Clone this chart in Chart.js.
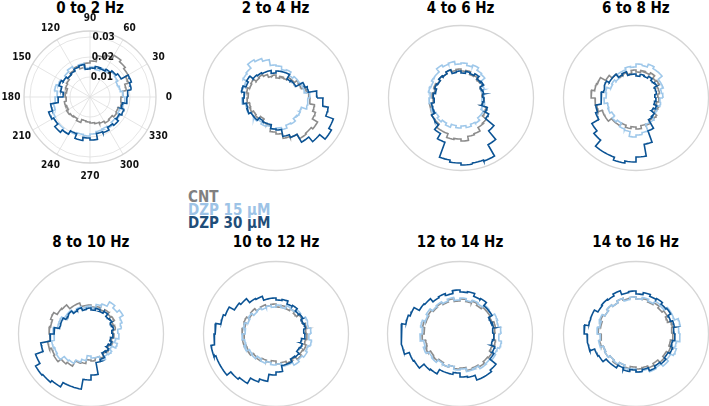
<!DOCTYPE html>
<html><head><meta charset="utf-8">
<script src="https://cdn.jsdelivr.net/npm/chart.js@4.4.0/dist/chart.umd.min.js"></script>
<style>
body{margin:0;background:#fff;width:709px;height:406px;position:relative;overflow:hidden;font-family:"DejaVu Sans Condensed","DejaVu Sans",sans-serif;font-stretch:condensed;}
.t{position:absolute;font-weight:bold;font-size:15px;line-height:15px;white-space:nowrap;transform:translateX(-50%);color:#000}
canvas{position:absolute}
.lg{position:absolute;left:188px;font-weight:bold;font-size:15px;line-height:15px;white-space:nowrap}
</style></head><body>
<div class="lg" style="top:190px;color:#808080">CNT</div>
<div class="lg" style="top:202.5px;color:#9dc3e6">DZP 15 µM</div>
<div class="lg" style="top:215.5px;color:#1f4e79">DZP 30 µM</div>
<script>
// ---- data (probability per 10° bin, in per-mille) ----
const seriesNames = ["CNT", "DZP 15 µM", "DZP 30 µM"];
const panelTitles = ["0 to 2 Hz","2 to 4 Hz","4 to 6 Hz","6 to 8 Hz","8 to 10 Hz","10 to 12 Hz","12 to 14 Hz","14 to 16 Hz"];
const angleTickLabels = [0,30,60,90,120,150,180,210,240,270,300,330];
const radialTicks = [10,20,30];           // per-mille -> 0.01, 0.02, 0.03
const radialTickLabels = ["0.01","0.02","0.03"];

const cnt_0_2 = [16.5,18.5,20.5,22,23,24,22.5,21,18,17,15,16.5,15.5,14.5,13.5,13,12,12.5,12,13,12.5,13.5,13,12.5,13.5,12,12.5,13,13.5,14,15,14.5,15.5,15,16,15.5];
const d15_0_2 = [16.5,15.5,15,16,16.5,15,15.5,14,15,14.5,17,16,17.5,16.5,15.5,17,18,16.5,17.5,18.5,20,21,20.5,21.5,20,19,19.5,18.5,17.5,17,18,16.5,17.5,16,17,17.5];
const d30_0_2 = [19,21,22,18,17,16,15,15.5,14.5,14,16.5,16,15,14.5,15.5,16.5,15,13.5,16,20,22,21,23,21.5,19.5,22,20.5,21.5,18.5,19,17.5,18.5,17,18,16.5,18.5];

const cnt_2_4 = [16.5,15.5,13.5,13.5,12,12,10.5,11,10,11.5,11,12.5,13.5,13,14.5,14,15,14,14.5,13.5,14,13,13.5,12,13.5,14,17,18,20.5,21,23.5,23,24,21,19.5,17];
const d15_2_4 = [17,14.5,14.5,14,14,13,15,14.5,16,16.5,19.5,21,22,19.5,19,17,17.5,16,17,15.5,15.5,14.5,15,14,15,14.5,15.5,15,16,14.5,15,13.5,14,13.5,16,16];
const d30_2_4 = [20.5,16.5,15.5,11.5,11.5,11,13.5,13.5,13.5,12.5,14,14,14.5,15,17,16,17.5,16,16.5,15,15.5,14.5,14.5,13,13.5,13.5,15.5,16,19.5,21,25.5,28.5,32,30.5,26.5,23.5];

const cnt_4_6 = [10.5,11,11,12.5,12,13,12.5,14,13.5,14.5,14,15,14,14.5,13.5,14.5,13.5,14.5,14,16,15.5,17,17,19,19,21,20.5,21.5,19.5,19,17,16.5,14,13.5,11,11.5];
const d15_4_6 = [11.5,11,12.5,13,15.5,16,17.5,16.5,17.5,17,18.5,18,19,17,17,16,16.5,15.5,16,15,16,14.5,15.5,14.5,15.5,14,15,14,15,14,14.5,13,13,11.5,12,10.5];
const d30_4_6 = [11,11.5,11,13,12.5,14,13,13.5,12.5,13.5,13,15,14,14.5,13.5,14,13,14,13.5,15,15,17,17.5,20.5,23.5,31.5,32.5,33.5,33,33.5,27,21.5,16,14,11,11.5];

const cnt_6_8 = [11,12,12,13.5,13,14.5,13.5,14,13,14,12.5,13.5,13,15.5,17.5,20.5,21,22.5,20.5,20,18,18,16,16,14.5,15.5,14.5,15.5,14,14.5,13,13.5,11.5,12,10.5,11.5];
const d15_6_8 = [13.5,13,14.5,14.5,17,17,18,16.5,17,15.5,16,15,15,13,14,13.5,15.5,15,16,14.5,15,14,15.5,14.5,16.5,17,19.5,18.5,17.5,14,14,12,12,11,12.5,12];
const d30_6_8 = [9.5,10.5,10.5,12,11.5,12.5,11.5,12,11,12,12,14,13.5,15.5,15.5,17,16.5,17.5,17.5,20.5,21.5,25.5,27.5,31.5,31.5,33,32,29.5,23.5,17.5,12.5,12,10,11,9.5,10];

const cnt_8_10 = [11,12.5,12,13.5,13,14,13,14,13.5,14.5,14.5,16.5,16.5,19,19.5,21.5,20.5,21,20.5,22,21,21.5,19.5,18.5,15.5,15,13,13.5,12,13,11.5,12,10.5,11.5,10.5,11.5];
const d15_8_10 = [13.5,15.5,16.5,18.5,17,18.5,16,15,13,14,13.5,14.5,14,15.5,15.5,17,17,19,18.5,20,19.5,20,17.5,17,15,13.5,11,12,12,14.5,13,13.5,12,14,12.5,14];
const d30_8_10 = [10.5,11.5,11,12,11.5,13,12,13,12,13,12.5,14,13.5,15,14.5,16,16,18.5,20.5,25.5,29.5,32,31.5,30.5,28,28,23,20.5,14.5,13.5,11,11.5,10,11,10,11];

const cnt_10_12 = [15,15.5,14.5,15,13.5,14.5,13.5,14.5,13.5,15,14.5,15.5,15,16.5,15.5,17,16,17,16,17,16,16.5,15,15.5,14,14.5,13.5,15,14.5,15.5,15,16.5,15.5,16,15,15.5];
const d15_10_12 = [17.5,16.5,17,15.5,16,14.5,15,13.5,14.5,13.5,14.5,14,15,14.5,16,15,16.5,15.5,17,16,17,15.5,16,14.5,15.5,14.5,15.5,15,16.5,16.5,18,17,18,17,18,16.5];
const d30_10_12 = [14,15,14.5,15.5,15,16.5,16,17.5,17,18,18,20,20.5,23,24,27,28,30.5,31,33,32,32,29.5,28.5,25.5,24,20.5,19,16,16,14.5,15,13.5,14,13,14.5];

const cnt_12_14 = [17.5,18,17,17.5,17.5,16.5,17.5,16.5,17.5,16.5,18,17,18,17.5,18.5,18,19,18,19,17.5,18.5,17,17.5,16.5,17.5,16.5,17.5,17,18.5,18,19,18,18.5,17,18,17];
const d15_12_14 = [20.5,19.5,20,18.5,19,17.5,18,17,18,17,18.5,17.5,18.5,18,19.5,18.5,20,19,20,18.5,19.5,18,18.5,17,17.5,16.5,18,17.5,19,18.5,20,19.5,20.5,20,21,19.5];
const d30_12_14 = [16.5,17,16.5,18.5,18.5,20.5,20,21.5,21,22,20.5,21.5,21,23,23.5,26.5,27.5,29.5,29.5,29.5,27,26.5,23.5,23,20.5,20.5,19.5,21.5,22,24.5,24.5,23.5,19.5,18.5,16.5,17];

const cnt_14_16 = [18,18.5,17,18,17,18,17,18,17.5,18.5,18,19,18,19,18,19,18,19,17.5,18.5,17.5,18,17,18,16.5,17.5,16.5,17.5,17,18,17,18.5,17.5,18.5,17.5,18.5];
const d15_14_16 = [21.5,22.5,20.5,20.5,18.5,19,17.5,18.5,17.5,18.5,17.5,19,18,19,18,19.5,18.5,19.5,18,19,17.5,18,17,17.5,16.5,18,17.5,19,18.5,20,19.5,21,20,21.5,20.5,22];
const d30_14_16 = [19,19.5,18.5,20,19.5,20.5,20,21,20,21.5,21,23,22,22.5,22,24,24,26,24.5,24.5,22,21.5,19.5,19.5,18,19,18,19,18,19.5,18.5,19.5,18.5,19.5,18.5,19.5];

const seriesByPanel = [
  [cnt_0_2,d15_0_2,d30_0_2],[cnt_2_4,d15_2_4,d30_2_4],[cnt_4_6,d15_4_6,d30_4_6],[cnt_6_8,d15_6_8,d30_6_8],
  [cnt_8_10,d15_8_10,d30_8_10],[cnt_10_12,d15_10_12,d30_10_12],[cnt_12_14,d15_12_14,d30_12_14],[cnt_14_16,d15_14_16,d30_14_16]
];

// ---- layout / style ----
const colors = ["#8c8c8c","#9fc8ea","#0b5394"];
const layout = [
  {cx:90,cy:97,size:180,rmax:33,full:true},
  {cx:275.5,cy:97.5,size:160,rmax:36.25},
  {cx:460.5,cy:97.5,size:160,rmax:36.25},
  {cx:635.8,cy:98,size:160,rmax:36.25},
  {cx:90.8,cy:333.5,size:160,rmax:36.25},
  {cx:276,cy:333.5,size:160,rmax:36.25},
  {cx:460,cy:333.5,size:160,rmax:36.25},
  {cx:635.5,cy:333.5,size:160,rmax:36.25}
];
const titleY = [0.5,235.3];
const PX_PER_UNIT = 2;

function stepPath(vals){
  const n = vals.length, w = 360/n, pts = [];
  for(let k=0;k<n;k++){
    const r = vals[k];
    for(let s=0;s<=4;s++){
      const a = (k*w + w*s/4)*Math.PI/180;
      pts.push({x:r*Math.cos(a), y:r*Math.sin(a)});
    }
  }
  pts.push(pts[0]);
  return pts;
}

const polarGrid = {
  id:'polarGrid',
  beforeDatasetsDraw(chart, args, opts){
    const {ctx} = chart, x = chart.scales.x, y = chart.scales.y;
    const cx = x.getPixelForValue(0), cy = y.getPixelForValue(0);
    const k = x.getPixelForValue(1) - cx;
    ctx.save();
    if(opts.full){
      ctx.strokeStyle = '#dedede'; ctx.lineWidth = 0.8;
      radialTicks.forEach(r=>{ctx.beginPath();ctx.arc(cx,cy,r*k,0,2*Math.PI);ctx.stroke();});
      angleTickLabels.forEach(a=>{
        const t = a*Math.PI/180;
        ctx.beginPath(); ctx.moveTo(cx,cy);
        ctx.lineTo(cx+opts.rmax*k*Math.cos(t), cy-opts.rmax*k*Math.sin(t)); ctx.stroke();
      });
    }
    ctx.strokeStyle = '#d6d6d6'; ctx.lineWidth = 1.3;
    ctx.beginPath(); ctx.arc(cx,cy,opts.rmax*k,0,2*Math.PI); ctx.stroke();
    ctx.restore();
  },
  afterDatasetsDraw(chart, args, opts){
    if(!opts.full) return;
    const {ctx} = chart, x = chart.scales.x, y = chart.scales.y;
    const cx = x.getPixelForValue(0), cy = y.getPixelForValue(0);
    const k = x.getPixelForValue(1) - cx;
    ctx.save();
    ctx.fillStyle = '#111';
    ctx.font = 'bold 10px "DejaVu Sans Condensed","DejaVu Sans"';
    ctx.textAlign = 'center'; ctx.textBaseline = 'middle';
    const lr = 39.5*k;
    angleTickLabels.forEach(a=>{
      const t = a*Math.PI/180;
      ctx.fillText(String(a), cx+lr*Math.cos(t), cy-lr*Math.sin(t));
    });
    ctx.textAlign = 'left';
    const ta = 87.5*Math.PI/180;
    radialTicks.forEach((r,i)=>{
      ctx.fillText(radialTickLabels[i], cx+r*k*Math.cos(ta), cy-r*k*Math.sin(ta));
    });
    ctx.restore();
  }
};

layout.forEach((L,i)=>{
  const t = document.createElement('div');
  t.className = 't'; t.textContent = panelTitles[i];
  t.style.left = L.cx+'px'; t.style.top = titleY[i<4?0:1]+'px';
  document.body.appendChild(t);
  const c = document.createElement('canvas');
  c.width = L.size; c.height = L.size;
  c.style.left = (L.cx-L.size/2)+'px'; c.style.top = (L.cy-L.size/2)+'px';
  c.style.width = L.size+'px'; c.style.height = L.size+'px';
  document.body.appendChild(c);
  const half = L.size/2/PX_PER_UNIT;
  const s = seriesByPanel[i];
  const datasets = [2,1,0].map(j=>({
    label: seriesNames[j], data: stepPath(s[j]), showLine:true, borderColor:colors[j],
    borderWidth:1.6, pointRadius:0, fill:false, tension:0
  }));
  new Chart(c, {
    type:'scatter',
    data:{datasets},
    options:{
      responsive:false, animation:false, devicePixelRatio:1,
      layout:{padding:0},
      scales:{x:{type:'linear',min:-half,max:half,display:false},y:{type:'linear',min:-half,max:half,display:false}},
      plugins:{legend:{display:false},tooltip:{enabled:false},title:{display:false},polarGrid:{full:!!L.full,rmax:L.rmax}}
    },
    plugins:[polarGrid]
  });
});
</script>
</body></html>
